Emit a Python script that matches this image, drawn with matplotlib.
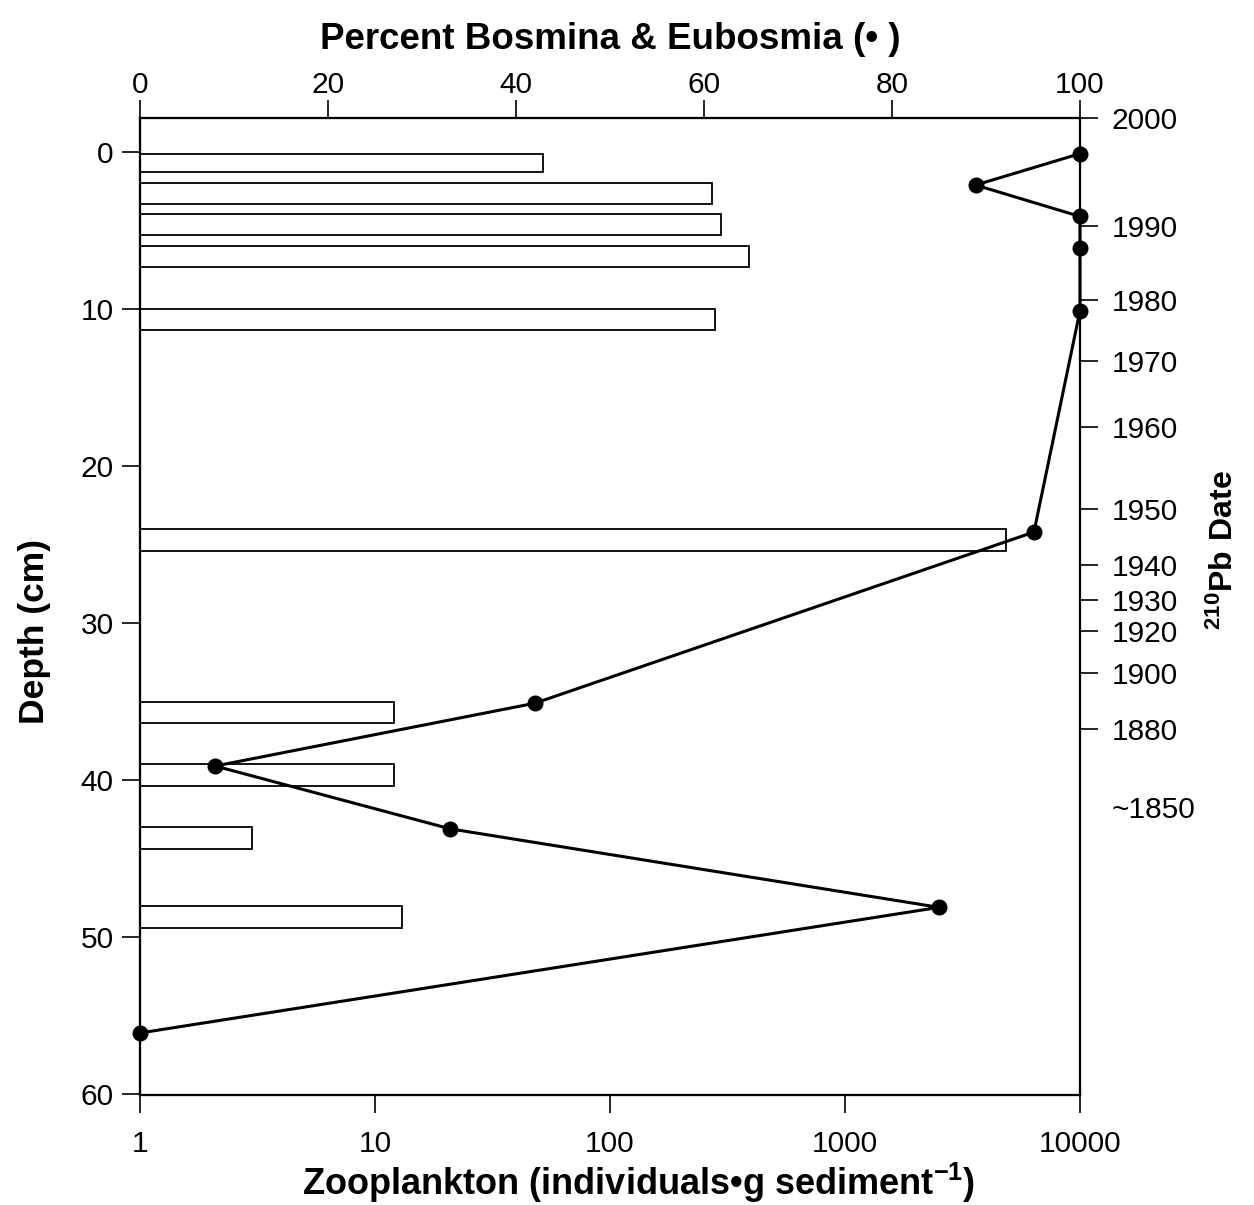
import numpy as np
import matplotlib
matplotlib.use("Agg")
import matplotlib.pyplot as plt

plt.rcParams["font.family"] = ["Liberation Sans", "DejaVu Sans"]
plt.rcParams["mathtext.fontset"] = "custom"
plt.rcParams["mathtext.rm"] = "Liberation Sans"
plt.rcParams["mathtext.bf"] = "Liberation Sans:bold"

# zooplankton concentration bars (individuals per g sediment), top depth of each slice (cm)
bar_top = [0.1, 1.95, 3.95, 5.95, 10.0, 24.0, 35.0, 39.0, 43.0, 48.0]
bar_thick = [1.15, 1.35, 1.35, 1.35, 1.35, 1.4, 1.35, 1.35, 1.4, 1.4]
zoo_count = [52, 272, 298, 392, 281, 4850, 12.0, 12.0, 3.0, 13.0]

# percent Bosmina & Eubosmia (dots)
pct_depth = [0.1, 2.1, 4.1, 6.1, 10.1, 24.2, 35.1, 39.1, 43.1, 48.1, 56.1]
pct_bosmina = [100, 88.9, 100, 100, 100, 95.1, 42.0, 8.0, 33.0, 85.0, 0]

# 210Pb dates on the right axis
date_depth = [-2.17, 4.7, 9.4, 13.3, 17.5, 22.7, 26.3, 28.5, 30.5, 33.2, 36.75, 41.7]
date_label = ["2000", "1990", "1980", "1970", "1960", "1950", "1940", "1930",
              "1920", "1900", "1880", "~1850"]

fig = plt.figure(figsize=(12.54, 12.05), dpi=100)
ax = fig.add_axes([140 / 1254, 1 - 1095 / 1205, 940 / 1254, 977 / 1205])

ax.barh(bar_top, np.array(zoo_count) - 1, height=bar_thick, left=1, align="edge",
        facecolor="white", edgecolor="black", linewidth=1.3, zorder=2)
ax.set_xscale("log")
ax.set_xlim(1, 10000)
ax.set_ylim(60.05, -2.17)
ax.set_xticks([1, 10, 100, 1000, 10000])
ax.set_xticklabels(["1", "10", "100", "1000", "10000"])
ax.xaxis.set_minor_locator(matplotlib.ticker.NullLocator())
ax.set_yticks([0, 10, 20, 30, 40, 50, 60])
ax.tick_params(axis="both", direction="out", length=13, width=1.2, labelsize=21.5)
ax.tick_params(axis="x", pad=12)
ax.tick_params(axis="y", pad=6)
ax.set_xlabel("Zooplankton (individuals\u2022g sediment$^{\\mathbf{-1}}$)",
              fontsize=26, fontweight="bold", labelpad=2)
ax.xaxis.label.set_x(0.53)

for sp in ax.spines.values():
    sp.set_linewidth(1.5)

# top axis: percent
ax_top = ax.twiny()
ax_top.set_xlim(0, 100)
ax_top.set_xticks([0, 20, 40, 60, 80, 100])
ax_top.tick_params(axis="x", direction="out", length=13, width=1.2, labelsize=21.5, pad=0.5)
ax_top.plot(pct_bosmina, pct_depth, color="black", linewidth=2.2, marker="o",
            markersize=10.5, clip_on=False, zorder=3)
ax_top.set_xlabel("Percent Bosmina & Eubosmia (\u2022 )", fontsize=26.5,
                  fontweight="bold", labelpad=16)
for sp in ax_top.spines.values():
    sp.set_linewidth(1.5)

# right axis: 210Pb dates
ax_r = ax.twinx()
ax_r.set_ylim(ax.get_ylim())
ax_r.set_yticks(date_depth)
ax_r.set_yticklabels(date_label)
ax_r.tick_params(axis="y", direction="out", length=13, width=1.2, labelsize=21.5, pad=10)
ax_r.yaxis.get_major_ticks()[-1].tick2line.set_visible(False)
for sp in ax_r.spines.values():
    sp.set_linewidth(1.5)

fig.text(35 / 1254, 1 - 632 / 1205, "Depth (cm)", rotation=90, fontsize=25.5,
         fontweight="bold", ha="center", va="center")
fig.text(1224 / 1254, 1 - 550 / 1205, r"$\mathbf{^{210}Pb\ Date}$", rotation=90,
         fontsize=23, ha="center", va="center")

fig.savefig("out.png", dpi=100)
